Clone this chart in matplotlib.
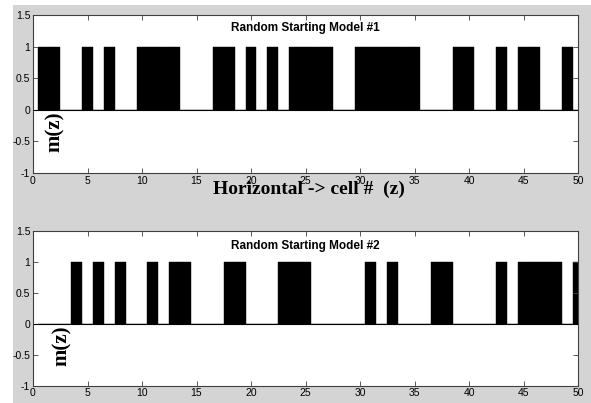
import matplotlib.pyplot as plt
from matplotlib.patches import Rectangle

# cell numbers and model values (1 = filled cell)
cells = list(range(1, 51))
model1 = [1, 1, 0, 0, 1, 0, 1, 0, 0, 1,
          1, 1, 1, 0, 0, 0, 1, 1, 0, 1,
          0, 1, 0, 1, 1, 1, 1, 0, 0, 1,
          1, 1, 1, 1, 1, 0, 0, 0, 1, 1,
          0, 0, 1, 0, 1, 1, 0, 0, 1, 0]
model2 = [0, 0, 0, 1, 0, 1, 0, 1, 0, 0,
          1, 0, 1, 1, 0, 0, 0, 1, 1, 0,
          0, 0, 1, 1, 1, 0, 0, 0, 0, 0,
          1, 0, 1, 0, 0, 0, 1, 1, 0, 0,
          0, 0, 1, 0, 1, 1, 1, 1, 0, 1]
titles = ['Random Starting Model #1', 'Random Starting Model #2']
xticks = [0, 5, 10, 15, 20, 25, 30, 35, 40, 45, 50]
yticks = [-1, -0.5, 0, 0.5, 1, 1.5]
ytick_labels = ['-1', '-0.5', '0', '0.5', '1', '1.5']

fig = plt.figure(figsize=(5.91, 4.03), dpi=100, facecolor='white')
# grey window area (white strip left and top, like the screenshot)
fig.patches.append(Rectangle((13 / 591, 0), 1, 1 - 5 / 403, transform=fig.transFigure,
                             facecolor='#d4d4d4', edgecolor='none', zorder=-10))

positions = [[33 / 591, 1 - 173 / 403, 545 / 591, 158 / 403],
             [33 / 591, 1 - 385.7 / 403, 545 / 591, 155 / 403]]
title_y = [0.915, 0.9]

axes = []
for i, m in enumerate([model1, model2]):
    ax = fig.add_axes(positions[i])
    ax.set_facecolor('white')
    ax.bar(cells, m, width=1.0, color='black', edgecolor='black', linewidth=0.3)
    ax.axhline(0, color='black', lw=0.8)
    ax.set_xlim(0, 50)
    ax.set_ylim(-1, 1.5)
    ax.set_xticks(xticks)
    ax.set_yticks(yticks)
    ax.set_yticklabels(ytick_labels)
    ax.tick_params(direction='in', top=True, right=True, length=3.5, width=0.6,
                   color='#404040', labelsize=7.5, pad=2)
    for lab in ax.get_xticklabels() + ax.get_yticklabels():
        lab.set_fontfamily('Liberation Sans')
    for s in ax.spines.values():
        s.set_color('#404040')
        s.set_linewidth(0.8)
    ax.text(0.5, title_y[i], titles[i], transform=ax.transAxes, ha='center', va='center',
            fontsize=8.5, fontweight='bold', family='Liberation Sans')
    axes.append(ax)

# axis labels placed as in the original
fig.text(55 / 591, 1 - 132 / 403, 'm(z)', rotation=90, ha='center', va='center',
         fontsize=15, fontweight='bold', family='Liberation Serif')
fig.text(62 / 591, 1 - 346 / 403, 'm(z)', rotation=90, ha='center', va='center',
         fontsize=15, fontweight='bold', family='Liberation Serif')
fig.text(309 / 591, 1 - 189 / 403, 'Horizontal -> cell #  (z)', ha='center', va='center',
         fontsize=14, fontweight='bold', family='Liberation Serif')

fig.savefig('out.png', dpi=100, facecolor=fig.get_facecolor())
